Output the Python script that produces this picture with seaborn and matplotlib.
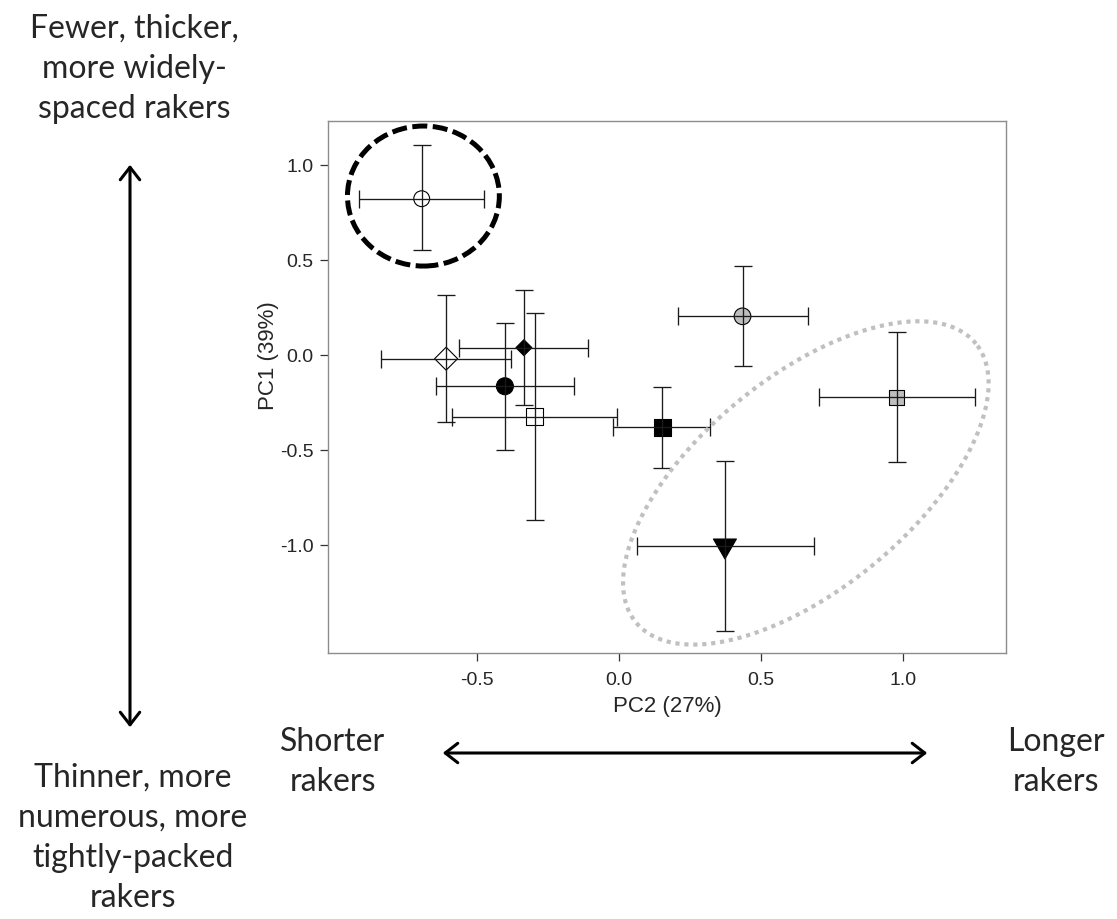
import numpy as np
import pandas as pd
import matplotlib
matplotlib.use("Agg")
import matplotlib.pyplot as plt
import seaborn as sns
from matplotlib.patches import Ellipse, FancyArrowPatch
from matplotlib.path import Path

# ---------------- data ----------------
groups = ["open_circle", "open_diamond", "filled_diamond", "filled_circle",
          "open_square", "filled_square", "grey_circle", "grey_square",
          "filled_triangle"]
pc2_mean = [-0.695, -0.609, -0.335, -0.402, -0.297, 0.152, 0.435, 0.978, 0.373]
pc1_mean = [0.824, -0.018, 0.040, -0.163, -0.323, -0.379, 0.205, -0.221, -1.002]
pc2_low = [-0.915, -0.838, -0.563, -0.643, -0.588, -0.021, 0.208, 0.703, 0.063]
pc2_high = [-0.474, -0.380, -0.109, -0.160, -0.008, 0.321, 0.665, 1.255, 0.686]
pc1_low = [0.554, -0.353, -0.260, -0.498, -0.867, -0.595, -0.056, -0.562, -1.451]
pc1_high = [1.105, 0.319, 0.344, 0.172, 0.223, -0.165, 0.472, 0.121, -0.556]

x_ticks = [-0.5, 0.0, 0.5, 1.0]
x_tick_labels = ["-0.5", "0.0", "0.5", "1.0"]
y_ticks = [-1.0, -0.5, 0.0, 0.5, 1.0]
y_tick_labels = ["-1.0", "-0.5", "0.0", "0.5", "1.0"]
x_label = "PC2 (27%)"
y_label = "PC1 (39%)"

# cluster outlines (data units)
dashed_center = (-0.689, 0.838)
dashed_size = (0.535, 0.737)
dotted_center = (0.658, -0.672)
dotted_major = (0.599, 0.733)
dotted_minor = (-0.236, 0.432)

top_text = "Fewer, thicker,\nmore widely-\nspaced rakers"
bottom_text = "Thinner, more\nnumerous, more\ntightly-packed\nrakers"
left_text = "Shorter\nrakers"
right_text = "Longer\nrakers"

# ---------------- styles ----------------
tri = Path([(-1.0, 0.577), (1.0, 0.577), (0.0, -1.155), (-1.0, 0.577)],
           [Path.MOVETO, Path.LINETO, Path.LINETO, Path.CLOSEPOLY])
marker_map = {"open_circle": "o", "open_diamond": "D", "filled_diamond": "D",
              "filled_circle": "o", "open_square": "s", "filled_square": "s",
              "grey_circle": "o", "grey_square": "s", "filled_triangle": tri}
fill_map = {"open_circle": "white", "open_diamond": "white", "filled_diamond": "black",
            "filled_circle": "black", "open_square": "white", "filled_square": "black",
            "grey_circle": "#bebebe", "grey_square": "#bebebe", "filled_triangle": "black"}
size_map = {"open_circle": 130, "open_diamond": 137, "filled_diamond": 66,
            "filled_circle": 149, "open_square": 144, "filled_square": 144,
            "grey_circle": 144, "grey_square": 121, "filled_triangle": 365}

df = pd.DataFrame({"group": groups, "pc2": pc2_mean, "pc1": pc1_mean,
                   "pc2_low": pc2_low, "pc2_high": pc2_high,
                   "pc1_low": pc1_low, "pc1_high": pc1_high})

sns.set_style("white")
plt.rcParams["axes.unicode_minus"] = False
plt.rcParams["font.family"] = ["Liberation Sans", "DejaVu Sans"]

W, H = 1117, 919
fig = plt.figure(figsize=(W / 100, H / 100), dpi=100)
ax_l, ax_r, ax_t, ax_b = 328, 1006, 121, 653
ax = fig.add_axes([ax_l / W, 1 - ax_b / H, (ax_r - ax_l) / W, (ax_b - ax_t) / H])

sns.scatterplot(data=df, x="pc2", y="pc1", hue="group", style="group", size="group",
                palette=fill_map, markers=marker_map, sizes=size_map,
                edgecolor="black", linewidth=0.8, legend=False, ax=ax, zorder=2)

ax.errorbar(df["pc2"], df["pc1"],
            xerr=[df["pc2"] - df["pc2_low"], df["pc2_high"] - df["pc2"]],
            yerr=[df["pc1"] - df["pc1_low"], df["pc1_high"] - df["pc1"]],
            fmt="none", ecolor="#1a1a1a", elinewidth=0.95, capsize=6.5, capthick=0.95,
            zorder=3)

# dashed circle
ax.add_patch(Ellipse(dashed_center, dashed_size[0], dashed_size[1], fill=False,
                     edgecolor="black", linewidth=3.6, linestyle=(0, (3.0, 1.1)),
                     zorder=4))
# dotted ellipse
t = np.linspace(0, 2 * np.pi, 600)
ex = dotted_center[0] + dotted_major[0] * np.cos(t) + dotted_minor[0] * np.sin(t)
ey = dotted_center[1] + dotted_major[1] * np.cos(t) + dotted_minor[1] * np.sin(t)
ax.plot(ex, ey, color="#c0c0c0", linewidth=3.0, linestyle=(0, (1.0, 1.15)),
        dash_capstyle="butt", zorder=4)

ax.set_xlim(-1.025, 1.363)
ax.set_ylim(-1.567, 1.233)
ax.set_xticks(x_ticks)
ax.set_xticklabels(x_tick_labels)
ax.set_yticks(y_ticks)
ax.set_yticklabels(y_tick_labels)
ax.set_xlabel(x_label, fontsize=16)
ax.set_ylabel(y_label, fontsize=16)
ax.tick_params(axis="both", which="both", direction="out", length=5.5, width=0.9,
               color="#333333", labelsize=14, bottom=True, left=True)
ax.tick_params(axis="x", pad=8)
ax.tick_params(axis="y", pad=5)
ax.xaxis.set_label_coords(0.5, -0.08)
ax.yaxis.set_label_coords(-0.073, (ax_b - 356) / (ax_b - ax_t))
for s in ax.spines.values():
    s.set_color("#8c8c8c")
    s.set_linewidth(1.0)

# annotations outside the axes (figure pixel positions)
def fx(px):
    return px / W

def fy(py):
    return 1 - py / H

ann_font = ["Lato", "DejaVu Sans"]
ann_kw = dict(ha="center", va="center", fontsize=23, family=ann_font, linespacing=1.42)
fig.text(fx(134), fy(69), top_text, **ann_kw)
fig.text(fx(133), fy(838), bottom_text, **ann_kw)
fig.text(fx(333), fy(762), left_text, **ann_kw)
fig.text(fx(1056), fy(762), right_text, **ann_kw)

arrow_kw = dict(arrowstyle="<->,head_length=0.45,head_width=0.35",
                mutation_scale=20, color="black", linewidth=2.2,
                transform=fig.transFigure)
fig.add_artist(FancyArrowPatch((fx(130), fy(162)), (fx(130), fy(730)), **arrow_kw))
fig.add_artist(FancyArrowPatch((fx(440), fy(753)), (fx(930), fy(753)), **arrow_kw))

fig.savefig("out.png", dpi=100)
